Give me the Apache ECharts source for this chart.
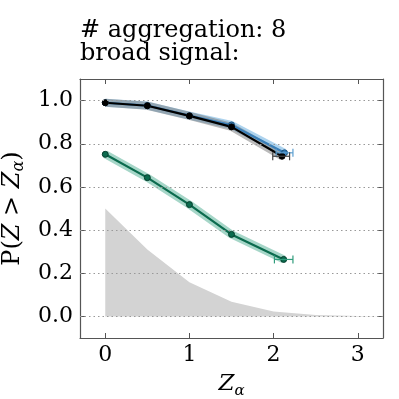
<!DOCTYPE html>
<html><head><meta charset="utf-8">
<script src="https://cdn.jsdelivr.net/npm/echarts@6/dist/echarts.min.js"></script>
<style>html,body{margin:0;padding:0;background:#fff}#c{width:399px;height:399px}</style>
</head><body><div id="c"></div>
<script>
// data
const titleLines = ['# aggregation: 8', 'broad signal:'];
const blueX = [0, 0.5, 1, 1.5, 2.13];
const blueY = [0.99, 0.977, 0.93, 0.887, 0.758];
const blackX = [0, 0.5, 1, 1.5, 2.1];
const blackY = [0.99, 0.976, 0.929, 0.878, 0.742];
const greenX = [0, 0.5, 1, 1.5, 2.12];
const greenY = [0.751, 0.643, 0.518, 0.38, 0.264];
const grayX = [0, 0.5, 1, 1.5, 2, 2.5, 3, 3.3];
const grayY = [0.5, 0.31, 0.158, 0.068, 0.023, 0.007, 0.002, 0.001];
// horizontal error bars at last points: [xlow, xhigh, y]
const blueErr = [2.03, 2.23, 0.758];
const blackErr = [1.99, 2.19, 0.742];
const greenErr = [2.01, 2.23, 0.264];
const xTicks = [0, 1, 2, 3];
const yTicks = [0.0, 0.2, 0.4, 0.6, 0.8, 1.0];

const serif = 'DejaVu Serif';
const frame = '#555';
const pairs = (xs, ys) => xs.map((x, i) => [x, ys[i]]);

const chart = echarts.init(document.getElementById('c'));
function errSeries(e, color) {
  return {
    type: 'custom', z: 5,
    data: [e],
    renderItem: (params, api) => {
      const a = api.coord([api.value(0), api.value(2)]);
      const b = api.coord([api.value(1), api.value(2)]);
      const st = {stroke: color, lineWidth: 1.2};
      return {type: 'group', children: [
        {type: 'line', shape: {x1: a[0], y1: a[1], x2: b[0], y2: b[1]}, style: st},
        {type: 'line', shape: {x1: a[0], y1: a[1] - 4, x2: a[0], y2: a[1] + 4}, style: st},
        {type: 'line', shape: {x1: b[0], y1: b[1] - 4, x2: b[0], y2: b[1] + 4}, style: st}
      ]};
    }
  };
}
function band(xs, ys, color, op) {
  return {type: 'line', data: pairs(xs, ys), symbol: 'none', z: 2,
    lineStyle: {color: color, width: 8, opacity: op, cap: 'butt', join: 'round'}, silent: true};
}
function main(xs, ys, color, edge) {
  return {type: 'line', data: pairs(xs, ys), z: 4, symbol: 'circle', symbolSize: 6,
    itemStyle: {color: color, borderColor: edge, borderWidth: 1},
    lineStyle: {color: color, width: 2.2}};
}
const axisBase = {
  axisLine: {onZero: false, show: true, lineStyle: {color: frame, width: 1.2}},
  splitLine: {show: false}
};
const option = {
  animation: false,
  graphic: [
    {type: 'text', left: 80, top: 19, style: {text: titleLines[0], font: '24px "DejaVu Serif"', fill: '#000'}},
    {type: 'text', left: 80, top: 42, style: {text: titleLines[1], font: '24px "DejaVu Serif"', fill: '#000'}}
  ],
  grid: {left: 80, right: 16, top: 79, bottom: 61, containLabel: false, outerBoundsMode: 'none'},
  xAxis: [Object.assign({
    type: 'value', min: -0.3, max: 3.3,
    name: '{i|Z}{s|α}', nameLocation: 'middle', nameGap: 32,
    nameTextStyle: {rich: {i: {fontFamily: serif, fontStyle: 'italic', fontSize: 23, color: '#000'},
      s: {fontFamily: serif, fontStyle: 'italic', fontSize: 15, color: '#000', verticalAlign: 'bottom', padding: [14, 0, 0, 0]}}},
    axisTick: {inside: true, length: 5, customValues: xTicks, lineStyle: {color: frame}},
    axisLabel: {customValues: xTicks, fontFamily: serif, fontSize: 22, color: '#000', margin: 6}
  }, axisBase), Object.assign({
    type: 'value', min: -0.3, max: 3.3, position: 'top',
    axisTick: {inside: true, length: 5, customValues: xTicks, lineStyle: {color: frame}},
    axisLabel: {show: false}
  }, axisBase)],
  yAxis: [Object.assign({
    type: 'value', min: -0.1, max: 1.1,
    name: '{n|P(}{i|Z}{n| > }{i|Z}{s|α}{n|)}', nameLocation: 'middle', nameGap: 50,
    nameTextStyle: {rich: {n: {fontFamily: serif, fontSize: 24, color: '#000'},
      i: {fontFamily: serif, fontStyle: 'italic', fontSize: 24, color: '#000'},
      s: {fontFamily: serif, fontStyle: 'italic', fontSize: 16, color: '#000', verticalAlign: 'bottom', padding: [12, 0, 0, 0]}}},
    axisTick: {show: true, inside: true, length: 5, customValues: yTicks, lineStyle: {color: frame}},
    axisLabel: {customValues: yTicks, fontFamily: serif, fontSize: 22, color: '#000', margin: 7,
      formatter: v => v.toFixed(1)}
  }, axisBase), Object.assign({
    type: 'value', min: -0.1, max: 1.1, position: 'right',
    axisTick: {show: true, inside: true, length: 5, customValues: yTicks, lineStyle: {color: frame}},
    axisLabel: {show: false}
  }, axisBase)],
  series: [
    {type: 'line', data: pairs(grayX, grayY), symbol: 'none', z: 1,
      lineStyle: {width: 0}, areaStyle: {color: '#d3d3d3', opacity: 1},
      markLine: {silent: true, symbol: 'none', label: {show: false},
        lineStyle: {color: '#999', type: [1.5, 3], width: 1},
        data: yTicks.map(v => ({yAxis: v}))}},
    band(blueX, blueY, '#6aaee0', 0.55),
    band(blackX, blackY, '#777', 0.5),
    band(greenX, greenY, '#3aa585', 0.45),
    main(blueX, blueY, '#3a7fb8', '#1a4f78'),
    main(blackX, blackY, '#000', '#000'),
    main(greenX, greenY, '#0b6b4e', '#053d2c'),
    errSeries(blueErr, '#5b9fd0'),
    errSeries(blackErr, '#444'),
    errSeries(greenErr, '#2f9c7c')
  ]
};
chart.setOption(option);
</script></body></html>
